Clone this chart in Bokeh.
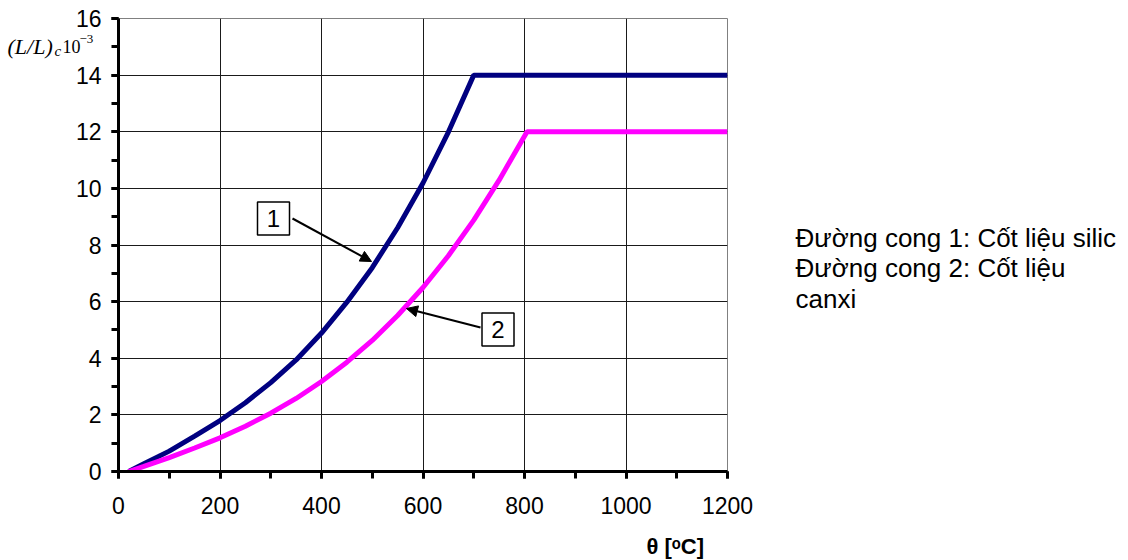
from bokeh.plotting import figure
from bokeh.models import Range1d, FixedTicker, Label, Arrow, NormalHead
from bokeh.core.properties import value
from bokeh.embed import file_html
from bokeh.resources import INLINE

# Thermal elongation of concrete (x 10^-3) versus temperature
temp_silic = [20, 50, 100, 150, 200, 250, 300, 350, 400, 450, 500, 550, 600, 650, 700, 1200]
strain_silic = [0.0, 0.27, 0.72, 1.25, 1.80, 2.43, 3.14, 3.94, 4.89, 5.98, 7.20, 8.61, 10.19, 11.99, 14.0, 14.0]

temp_calc = [20, 50, 100, 150, 200, 250, 300, 350, 400, 450, 500, 550, 600, 650, 700, 750, 805, 1200]
strain_calc = [0.0, 0.18, 0.49, 0.83, 1.19, 1.60, 2.06, 2.58, 3.18, 3.86, 4.63, 5.51, 6.50, 7.62, 8.88, 10.29, 12.0, 12.0]

x_ticks = [0, 200, 400, 600, 800, 1000, 1200]
x_minor = [0, 100, 200, 300, 400, 500, 600, 700, 800, 900, 1000, 1100, 1200]
y_ticks = [0, 2, 4, 6, 8, 10, 12, 14, 16]
y_minor = [0, 1, 2, 3, 4, 5, 6, 7, 8, 9, 10, 11, 12, 13, 14, 15, 16]

legend_text = "Đường cong 1: Cốt liệu silic\nĐường cong 2: Cốt liệu\ncanxi"
x_title = "\u03b8  [\u1d52C]"

W, H = 1128, 560
LEFT, RIGHT, TOP, BOTTOM = 118, 727, 18, 471
X0, X1, Y0, Y1 = 0, 1200, 0, 16

SANS = "Liberation Sans"
SERIF = "Liberation Serif"
BASELINE_SHIFT = 7  # labels anchored "alphabetic" render a little low


def px(sx, sy):
    """Canvas pixel position -> data coordinates."""
    x = X0 + (sx - LEFT) / (RIGHT - LEFT) * (X1 - X0)
    y = Y0 + (BOTTOM - sy) / (BOTTOM - TOP) * (Y1 - Y0)
    return x, y


def data_label(sx, sy, text, font, size, style="normal", baseline="alphabetic"):
    """Label anchored (left) at a canvas pixel position, in data units."""
    if baseline == "alphabetic":
        sy -= BASELINE_SHIFT
    x, y = px(sx, sy)
    return Label(x=x, y=y, text=text, text_font=font, text_font_size=size,
                 text_font_style=style, text_color="black",
                 text_baseline=baseline, text_align="left")


p = figure(width=W, height=H, x_range=Range1d(X0, X1), y_range=Range1d(Y0, Y1),
           output_backend="svg", toolbar_location=None, title=None,
           min_border_left=LEFT, min_border_right=W - RIGHT,
           min_border_top=TOP, min_border_bottom=H - BOTTOM)
p.background_fill_color = "white"
p.border_fill_color = "white"
p.outline_line_color = "#808080"
p.outline_line_width = 1

# grid
p.xgrid.ticker = FixedTicker(ticks=x_ticks)
p.ygrid.ticker = FixedTicker(ticks=y_ticks)
for g in (p.xgrid, p.ygrid):
    g.grid_line_color = "#1a1a1a"
    g.grid_line_width = 1

# axes
p.xaxis.ticker = FixedTicker(ticks=x_ticks, minor_ticks=x_minor)
p.yaxis.ticker = FixedTicker(ticks=y_ticks, minor_ticks=y_minor)
for ax in (p.xaxis, p.yaxis):
    ax.axis_line_color = "black"
    ax.axis_line_width = 3
    ax.major_tick_line_color = "black"
    ax.minor_tick_line_color = "black"
    ax.major_tick_line_width = 3
    ax.minor_tick_line_width = 3
    ax.major_tick_in = 0
    ax.minor_tick_in = 0
    ax.major_tick_out = 7
    ax.minor_tick_out = 7
    ax.major_label_text_font = SANS
    ax.major_label_text_font_size = "23px"
    ax.major_label_text_color = "black"
p.xaxis.major_label_standoff = 18
p.yaxis.major_label_standoff = 10

# curves
p.line(temp_silic, strain_silic, line_color="#000080", line_width=5)
p.line(temp_calc, strain_calc, line_color="#FF00FF", line_width=5)

# numbered boxes with arrows
for (bx, by), label in (((273, 218), "1"), ((497.5, 329), "2")):
    cx, cy = px(bx, by)
    p.rect([cx], [cy], width=32, height=33, width_units="screen", height_units="screen",
           fill_color="white", line_color="black", line_width=1.5)
    p.text([cx], [cy], text=[label], text_align="center", text_baseline="middle",
           text_font=value(SANS), text_font_size="24px", text_color="black")

for (sx0, sy0), (sx1, sy1) in (((292, 218), (371, 261)), ((480, 327), (406, 308))):
    xs, ys = px(sx0, sy0)
    xe, ye = px(sx1, sy1)
    p.add_layout(Arrow(x_start=xs, y_start=ys, x_end=xe, y_end=ye, line_width=2,
                       line_color="black",
                       end=NormalHead(size=11, fill_color="black", line_color="black")))

# Texts outside the frame live in the side panels (the frame clips centre annotations);
# their positions are still given in data units, so the panel they sit in does not matter.
desc = data_label(795, 222, legend_text, SANS, "26px", baseline="top")
desc.text_line_height = 1.03
p.add_layout(desc, "right")

# x-axis quantity θ [°C]
p.add_layout(data_label(646, 553, x_title, SANS, "22px", "bold"), "left")

# y-axis quantity (L/L)_c 10^-3
p.add_layout(data_label(7, 53, "(L/L)", SERIF, "22px", "italic"), "below")
for sx, sy, txt, size, style in ((54, 57, "c", "15px", "italic"),
                                 (62, 53, "10", "18px", "normal"),
                                 (79, 45, "\u22123", "13px", "normal")):
    p.add_layout(data_label(sx, sy, txt, SERIF, size, style), "right")

open("out.html", "w").write(file_html(p, INLINE))
